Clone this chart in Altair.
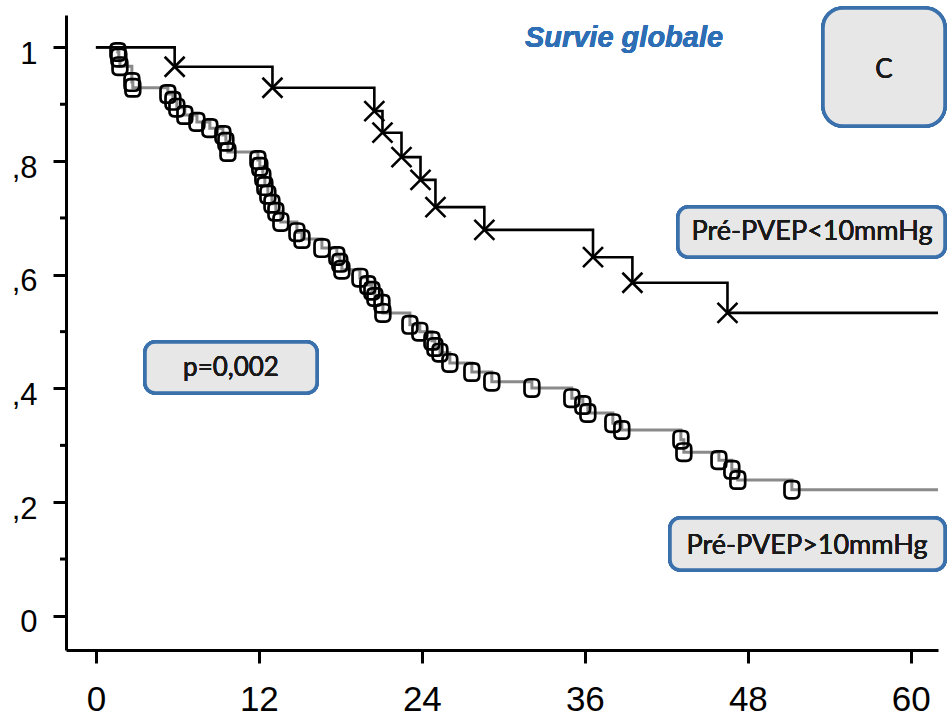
import altair as alt
import pandas as pd

# ---- data ----
# Group 1: Pré-PVEP<10mmHg (black line, X markers)
g1_months = [0, 5.8, 13.0, 20.5, 21.1, 22.5, 23.9, 25.0, 28.6, 36.6, 39.5, 46.5, 62.0]
g1_surv = [1.0, 0.966, 0.929, 0.888, 0.850, 0.807, 0.767, 0.719, 0.679, 0.631, 0.586, 0.533, 0.533]

# Group 2: Pré-PVEP>10mmHg (grey line, rounded-square markers)
g2_months = [0, 1.62, 1.69, 1.77, 2.65, 2.72, 5.30, 5.67, 5.96, 6.55, 7.44, 8.39, 9.35, 9.57, 9.72,
             11.93, 12.07, 12.29, 12.44, 12.66, 12.96, 13.25, 13.62, 14.80, 15.17, 16.64, 17.74,
             17.96, 18.11, 19.44, 20.02, 20.32, 20.54, 21.06, 21.13, 23.12, 23.85, 24.74, 24.96,
             25.33, 26.06, 27.68, 29.15, 32.10, 35.04, 35.85, 36.22, 38.06, 38.72, 43.07, 43.29,
             45.87, 46.82, 47.26, 51.24, 62.0]
g2_surv = [1.0, 0.992, 0.982, 0.967, 0.939, 0.929, 0.918, 0.906, 0.894, 0.881, 0.869, 0.858, 0.846,
           0.834, 0.816, 0.802, 0.790, 0.772, 0.756, 0.741, 0.725, 0.711, 0.693, 0.675, 0.663,
           0.647, 0.633, 0.621, 0.609, 0.595, 0.582, 0.572, 0.561, 0.549, 0.533, 0.512, 0.500,
           0.484, 0.473, 0.463, 0.445, 0.429, 0.412, 0.401, 0.383, 0.371, 0.357, 0.339, 0.327,
           0.310, 0.288, 0.274, 0.257, 0.239, 0.222, 0.222]

x_ticks = [0, 12, 24, 36, 48, 60]
y_ticks = [0, 0.2, 0.4, 0.6, 0.8, 1.0]
y_minor = [0.1, 0.3, 0.5, 0.7, 0.9]

title_text = "Survie globale"
panel_text = "C"
label_low = "Pré-PVEP<10mmHg"
label_high = "Pré-PVEP>10mmHg"
pvalue_text = "p=0,002"

# ---- tables ----
g1 = pd.DataFrame({"month": g1_months, "surv": g1_surv})
g1["mark"] = [0 < i < len(g1) - 1 for i in range(len(g1))]
g2 = pd.DataFrame({"month": g2_months, "surv": g2_surv})
g2["mark"] = [0 < i < len(g2) - 1 for i in range(len(g2))]
minor = pd.DataFrame({"v": y_minor})

xscale = alt.Scale(domain=[-2.2, 62.0], nice=False, zero=False)
yscale = alt.Scale(domain=[-0.06, 1.057], nice=False, zero=False)

xaxis = alt.Axis(values=x_ticks, title=None, tickSize=13, labelPadding=19,
                 labelFont="Liberation Sans", labelFontSize=35, labelColor="black")
yaxis = alt.Axis(values=y_ticks, title=None, tickSize=13, labelPadding=16,
                 labelFont="Liberation Sans", labelFontSize=31, labelColor="black",
                 labelOffset=7,
                 labelExpr="datum.value == 0 ? '0' : datum.value == 1 ? '1' : "
                           "replace(format(datum.value, '.1f'), '0.', ',')")

X_SHAPE = "M -1,-1 L 1,1 M -1,1 L 1,-1"
RSQ_SHAPE = ("M -0.3,-1 L 0.3,-1 Q 0.85,-1 0.85,-0.45 L 0.85,0.45 Q 0.85,1 0.3,1 "
             "L -0.3,1 Q -0.85,1 -0.85,0.45 L -0.85,-0.45 Q -0.85,-1 -0.3,-1 Z")

base2 = alt.Chart(g2)
line2 = base2.mark_line(interpolate="step-after", color="#8a8a8a", strokeWidth=3).encode(
    x=alt.X("month:Q", scale=xscale, axis=xaxis),
    y=alt.Y("surv:Q", scale=yscale, axis=yaxis),
)
pts2 = base2.transform_filter("datum.mark").mark_point(
    shape=RSQ_SHAPE, size=300, filled=False, color="black", strokeWidth=2.7, opacity=1
).encode(x=alt.X("month:Q", scale=xscale), y=alt.Y("surv:Q", scale=yscale))

base1 = alt.Chart(g1)
line1 = base1.mark_line(interpolate="step-after", color="black", strokeWidth=2.6).encode(
    x=alt.X("month:Q", scale=xscale), y=alt.Y("surv:Q", scale=yscale)
)
pts1 = base1.transform_filter("datum.mark").mark_point(
    shape=X_SHAPE, size=400, filled=False, color="black", strokeWidth=2.6, opacity=1
).encode(x=alt.X("month:Q", scale=xscale), y=alt.Y("surv:Q", scale=yscale))

minor_ticks = alt.Chart(minor).mark_rule(color="black", strokeWidth=3).encode(
    y=alt.Y("v:Q", scale=yscale), x=alt.value(-6), x2=alt.value(0)
)

BOX_FILL = "#e7e7e7"
BOX_STROKE = "#3a70ab"


def box(x1, x2, y1, y2, r):
    return alt.Chart(minor).mark_rect(
        fill=BOX_FILL, stroke=BOX_STROKE, strokeWidth=3.5, cornerRadius=r
    ).encode(x=alt.value(x1), x2=alt.value(x2), y=alt.value(y1), y2=alt.value(y2))


def label(txt, x, y, size, font="Lato", color="#1a1a1a", style="normal", weight="normal"):
    return alt.Chart(minor).mark_text(
        text=txt, font=font, fontSize=size, color=color, fontStyle=style,
        fontWeight=weight, align="center", baseline="middle"
    ).encode(x=alt.value(x), y=alt.value(y))


box_c = box(757, 879, -7, 111, 20)
box_low = box(612, 879, 192, 242, 10)
box_p = box(79, 251, 327, 378, 10)
box_high = box(604, 879, 503, 555, 10)

t_title = label(title_text, 558, 23, 29, font="Liberation Sans", color="#2e6eb5",
                style="italic", weight="bold")
t_c = label(panel_text, 818, 55, 26)
t_low = label(label_low, 746, 217, 27)
t_p = label(pvalue_text, 165, 353, 26)
t_high = label(label_high, 741, 531, 27)

chart = alt.layer(
    line2, pts2, line1, pts1, minor_ticks,
    box_c, box_low, box_p, box_high,
    t_title, t_c, t_low, t_p, t_high,
).properties(
    width=872, height=635,
    padding={"left": 66, "top": 15, "right": 9, "bottom": 74},
    autosize="none",
).configure_view(stroke=None).configure_axis(
    grid=False, domainColor="black", domainWidth=3, tickColor="black", tickWidth=3
)

chart.save("out.html", embed_options={"renderer": "svg", "actions": False})
